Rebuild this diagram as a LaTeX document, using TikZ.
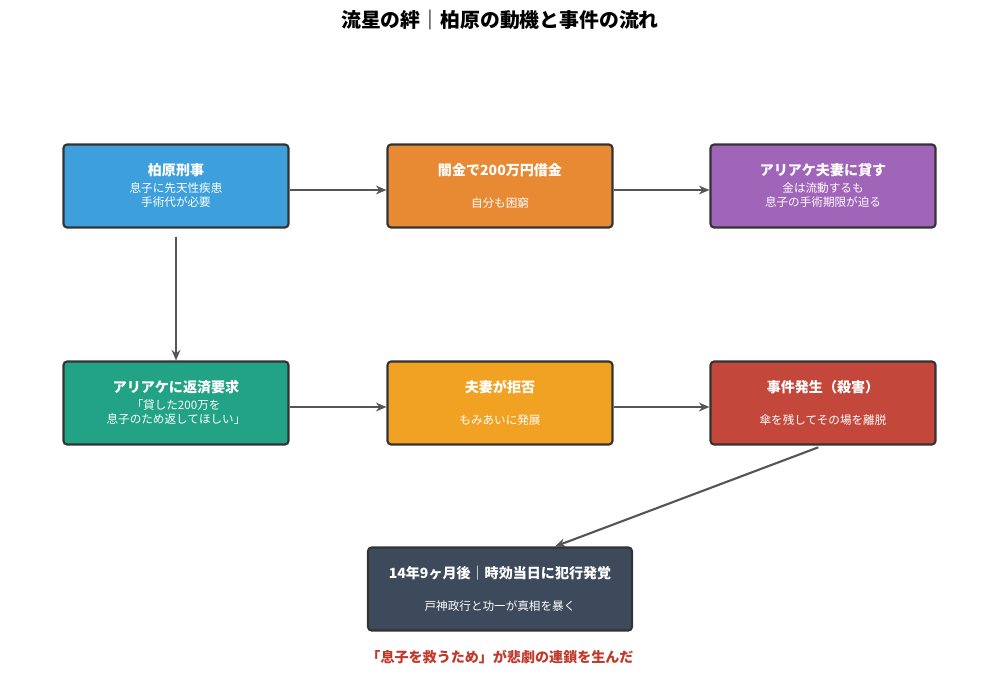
\documentclass[tikz,border=0pt]{standalone}
\usepackage{fontspec}
\setmainfont{Noto Sans CJK JP}
\usetikzlibrary{arrows.meta, positioning}
\definecolor{cblue}{HTML}{3E9FDD}
\definecolor{corange}{HTML}{E88933}
\definecolor{cpurple}{HTML}{A064B9}
\definecolor{cteal}{HTML}{23A385}
\definecolor{cyellow}{HTML}{F2A223}
\definecolor{cred}{HTML}{C4473B}
\definecolor{cdark}{HTML}{3C4A5B}
\definecolor{cedge}{HTML}{333333}
\definecolor{carrow}{HTML}{555555}
\definecolor{cnote}{HTML}{C0392B}
\tikzstyle{flow-box}=[
draw=cedge,
line width=1.2pt,
rounded corners=2pt,
minimum width=4.5cm,
minimum height=1.66cm,
shape=rectangle,
]
\tikzstyle{flow-title}=[
text=white,
font=\fontsize{8}{9.5}\selectfont\bfseries,
]
\tikzstyle{flow-sub}=[
text=white,
align=center,
font=\fontsize{6.6}{8}\selectfont,
]
\tikzstyle{flow-arrow}=[
draw=carrow,
line width=1.2pt,
-{Stealth[length=6pt,width=5pt]},
]

\begin{document}
\begin{tikzpicture}[x=0.02cm, y=-0.02cm]
        \newcommand{\flowbox}[7]
        {
          \node[flow-box, fill=#4] (#1) at (#2,#3) {};
          \node[flow-title] (#1t) at ([yshift=0.32cm]#1.center) {#5};
          \node[flow-sub] (#1s) at ([yshift=-#7 cm]#1.center) {#6};
        }
        \useasboundingbox (0,0) rectangle (1000,697);

        \node[font=\fontsize{11.3}{13}\selectfont\bfseries] (title) at (500,20)
          {流星の絆｜柏原の動機と事件の流れ};

        % row 1
        \flowbox{b1}{176}{186}{cblue}{柏原刑事}{息子に先天性疾患\\手術代が必要}{0.18}
        \flowbox{b2}{500}{186}{corange}{闇金で200万円借金}{自分も困窮}{0.34}
        \flowbox{b3}{823}{186}{cpurple}{アリアケ夫妻に貸す}{金は流動するも\\息子の手術期限が迫る}{0.18}

        % row 2
        \flowbox{b4}{176}{403}{cteal}{アリアケに返済要求}{「貸した200万を\\息子のため返してほしい」}{0.18}
        \flowbox{b5}{500}{403}{cyellow}{夫妻が拒否}{もみあいに発展}{0.34}
        \flowbox{b6}{823}{403}{cred}{事件発生（殺害）}{傘を残してその場を離脱}{0.34}

        % result
        \begin{scope}[flow-box/.append style={minimum width=5.28cm}]
          \flowbox{b7}{500}{589}{cdark}{14年9ヶ月後｜時効当日に犯行発覚}{戸神政行と功一が真相を暴く}{0.34}
        \end{scope}

        \node[text=cnote, font=\fontsize{8}{9.5}\selectfont\bfseries] (note) at (500,657)
          {「息子を救うため」が悲劇の連鎖を生んだ};

        \draw[flow-arrow] ([yshift=-0.08cm]b1.east) -- ([yshift=-0.08cm]b2.west);
        \draw[flow-arrow] ([yshift=-0.08cm]b2.east) -- ([yshift=-0.08cm]b3.west);
        \draw[flow-arrow] ([yshift=-0.08cm]b4.east) -- ([yshift=-0.08cm]b5.west);
        \draw[flow-arrow] ([yshift=-0.08cm]b5.east) -- ([yshift=-0.08cm]b6.west);
        \draw[flow-arrow, shorten <=0.16cm] (b1.south) -- (b4.north);
        \draw[flow-arrow, shorten <=0.1cm] (b6.south) -- ([xshift=1.1cm]b7.north);
      \end{tikzpicture}
\end{document}
